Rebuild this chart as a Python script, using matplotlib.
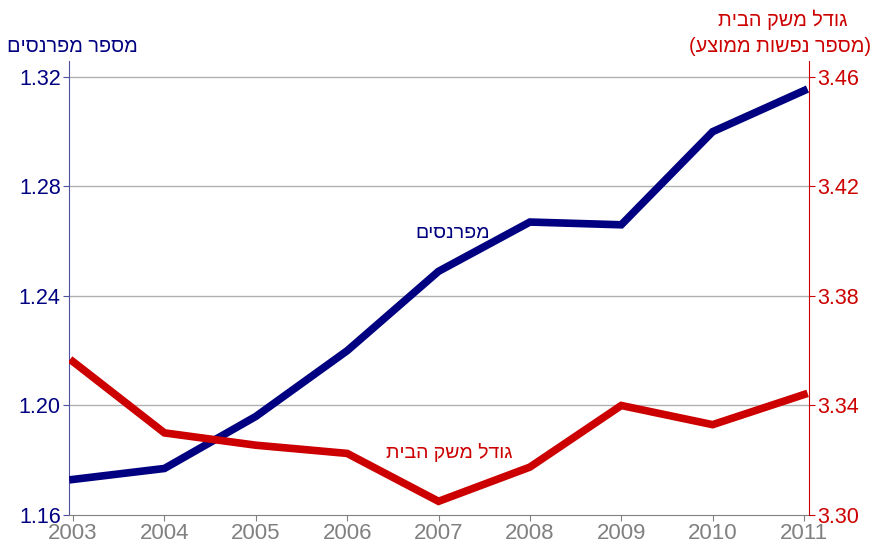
import matplotlib
matplotlib.use("Agg")
import matplotlib.pyplot as plt

years = [2003, 2004, 2005, 2006, 2007, 2008, 2009, 2010, 2011]
earners = [1.173, 1.177, 1.196, 1.220, 1.249, 1.267, 1.266, 1.300, 1.315]
household = [3.356, 3.330, 3.3255, 3.3225, 3.305, 3.3175, 3.340, 3.333, 3.344]
left_ticks = [1.16, 1.20, 1.24, 1.28, 1.32]
right_ticks = [3.30, 3.34, 3.38, 3.42, 3.46]

left_title = "מספר מפרנסים"
right_title_1 = "גודל משק הבית"
right_title_2 = "(מספר נפשות ממוצע)"
label_earners = "מפרנסים"
label_household = "גודל משק הבית"

def vis(s):
    mirror = {"(": ")", ")": "("}
    return "".join(mirror.get(c, c) for c in reversed(s))

plt.rcParams['font.family'] = ['Liberation Sans', 'DejaVu Sans']

NAVY = "#000080"
RED = "#CC0000"
GRAY = "#808080"

fig = plt.figure(figsize=(8.75, 5.5), dpi=100)
ax = fig.add_axes([0.0789, 0.0636, 0.9246 - 0.0789, 0.889 - 0.0636])
ax2 = ax.twinx()

ax.set_xlim(2002.956, 2011.055)
ax.set_ylim(1.16, 1.3258)
ax2.set_ylim(3.30, 3.4658)

for v in left_ticks[1:]:
    ax.axhline(v, color="#b0b0b0", lw=1, zorder=0)

ax.plot(years, earners, color=NAVY, lw=5.5, solid_joinstyle="miter", zorder=3)
ax2.plot(years, household, color=RED, lw=5.5, solid_joinstyle="miter", zorder=3)

ax.set_xticks(years)
ax.set_xticklabels([str(y) for y in years], color=GRAY, fontsize=16)
ax.tick_params(axis='x', length=4, color=GRAY, pad=2)
ax.set_yticks(left_ticks)
ax.set_yticklabels([f"{v:.2f}" for v in left_ticks], color=NAVY, fontsize=15.5)
ax.tick_params(axis='y', length=4, color="#5050a0", pad=2)
ax2.set_yticks(right_ticks)
ax2.set_yticklabels([f"{v:.2f}" for v in right_ticks], color=RED, fontsize=15.5)
ax2.tick_params(axis='y', length=4, color=RED, pad=2)

for a in (ax, ax2):
    a.spines['top'].set_visible(False)
ax.spines['left'].set_color("#5050a0")
ax.spines['right'].set_visible(False)
ax.spines['bottom'].set_color(GRAY)
ax2.spines['right'].set_color(RED)
ax2.spines['left'].set_visible(False)
ax2.spines['bottom'].set_visible(False)

fig.text(72 / 875, 1 - 47 / 550, vis(left_title), color=NAVY, fontsize=14.3,
         ha='center', va='center')
fig.text(783 / 875, 1 - 20 / 550, vis(right_title_1), color=RED, fontsize=14.3,
         ha='center', va='center')
fig.text(780 / 875, 1 - 47 / 550, vis(right_title_2), color=RED, fontsize=14.3,
         ha='center', va='center')

ax.text(2007.15, 1.2628, vis(label_earners), color=NAVY, fontsize=14,
        ha='center', va='center')
ax2.text(2007.12, 3.3228, vis(label_household), color=RED, fontsize=14,
         ha='center', va='center')

fig.savefig("out.png", dpi=100)
